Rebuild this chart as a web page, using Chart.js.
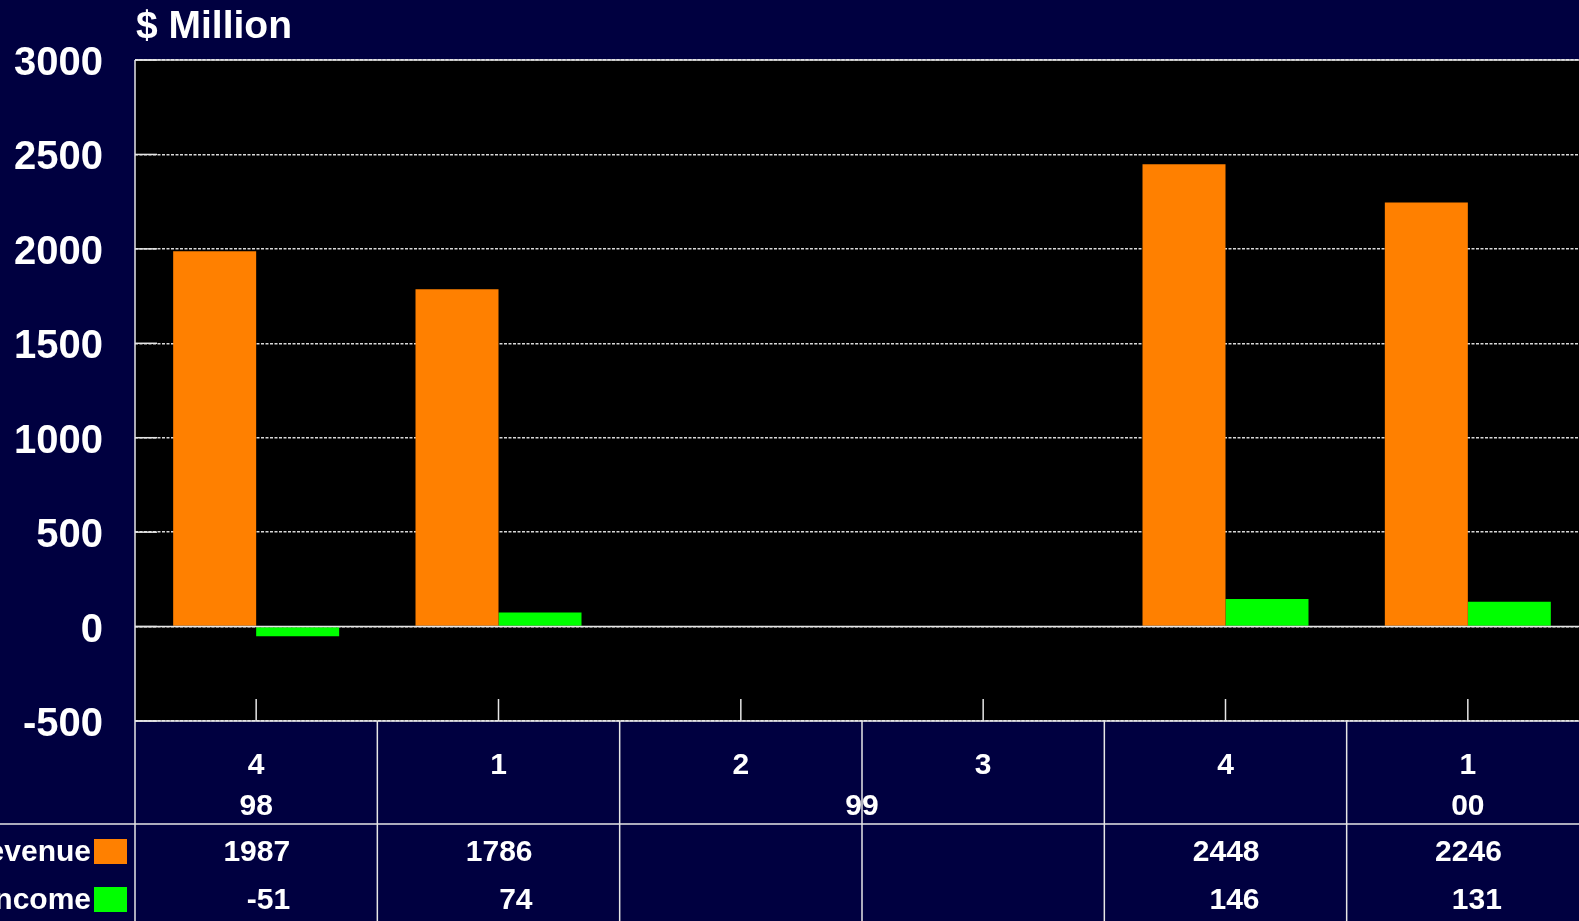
<!DOCTYPE html>
<html>
<head>
<meta charset="utf-8">
<script src="https://cdn.jsdelivr.net/npm/chart.js@4.4.1/dist/chart.umd.min.js"></script>
<style>
  html, body { margin: 0; padding: 0; background: #000040; overflow: hidden; width: 1579px; height: 921px; }
  #wrap { position: absolute; left: 0; top: 0; width: 1590px; height: 921px; }
</style>
</head>
<body>
<div id="wrap"><canvas id="c" width="1590" height="921"></canvas></div>
<script>
// ---- data ----
const quarters = ["4", "1", "2", "3", "4", "1"];
const years = ["98", "99", "99", "99", "99", "00"];
const seriesNames = ["Revenue", "Income"];
const revenue = [1987, 1786, null, null, 2448, 2246];
const income = [-51, 74, null, null, 146, 131];
const yTicks = [-500, 0, 500, 1000, 1500, 2000, 2500, 3000];
const axisTitle = "$ Million";

const FONT = '"Liberation Sans", Arial, Helvetica, sans-serif';
const WHITE = '#ffffff';
const LINE = '#e6e6e6';
const NAVY = '#000040';
const colors = ['#ff8000', '#00ff00'];

Chart.defaults.font.family = FONT;

const tablePlugin = {
  id: 'tablePlugin',
  beforeDraw(chart) {
    const { ctx, chartArea: a } = chart;
    ctx.save();
    ctx.fillStyle = NAVY;
    ctx.fillRect(0, 0, chart.width, chart.height);
    ctx.fillStyle = '#000000';
    ctx.fillRect(a.left, a.top, a.right - a.left, a.bottom - a.top);
    ctx.restore();
  },
  afterDatasetsDraw(chart) {
    const { ctx, chartArea: a, scales: { x, y } } = chart;
    ctx.save();
    ctx.strokeStyle = LINE;
    ctx.lineWidth = 1.5;
    ctx.setLineDash([]);
    [y.getPixelForValue(0), a.top, a.bottom].forEach(py => {
      ctx.beginPath(); ctx.moveTo(a.left, py); ctx.lineTo(a.right, py); ctx.stroke();
    });
    ctx.beginPath(); ctx.moveTo(a.left, a.top); ctx.lineTo(a.left, chart.height); ctx.stroke();
    yTicks.forEach(v => {
      const py = y.getPixelForValue(v);
      ctx.beginPath(); ctx.moveTo(a.left, py); ctx.lineTo(a.left + 22, py); ctx.stroke();
    });
    quarters.forEach((q, i) => {
      const px = x.getPixelForValue(i);
      ctx.beginPath(); ctx.moveTo(px, a.bottom - 22); ctx.lineTo(px, a.bottom); ctx.stroke();
    });
    ctx.restore();
  },
  afterDraw(chart) {
    const { ctx, chartArea: a, scales: { x, y } } = chart;
    const half = (x.getPixelForValue(1) - x.getPixelForValue(0)) / 2;
    ctx.save();
    ctx.fillStyle = WHITE;
    ctx.font = 'bold 39px ' + FONT;
    ctx.textAlign = 'left';
    ctx.textBaseline = 'middle';
    ctx.fillText(axisTitle, a.left + 1, 27);

    const rowLine = 824;
    ctx.strokeStyle = LINE;
    ctx.lineWidth = 1.5;
    ctx.beginPath(); ctx.moveTo(0, rowLine); ctx.lineTo(chart.width, rowLine); ctx.stroke();
    for (let i = 1; i <= quarters.length; i++) {
      const px = x.getPixelForValue(i) - half;
      ctx.beginPath(); ctx.moveTo(px, a.bottom); ctx.lineTo(px, chart.height); ctx.stroke();
    }

    ctx.font = 'bold 30px ' + FONT;
    ctx.textAlign = 'center';
    let start = 0;
    for (let i = 1; i <= years.length; i++) {
      if (i === years.length || years[i] !== years[start]) {
        const x0 = x.getPixelForValue(start) - half;
        const x1 = x.getPixelForValue(i - 1) + half;
        ctx.fillText(years[start], (x0 + x1) / 2, 807);
        start = i;
      }
    }

    const rows = [revenue, income];
    const rowY = [853, 901];
    rows.forEach((vals, r) => {
      ctx.fillStyle = WHITE;
      ctx.textAlign = 'right';
      ctx.fillText(seriesNames[r], 91, rowY[r]);
      ctx.fillStyle = colors[r];
      ctx.fillRect(94, rowY[r] - 14, 33, 25);
      ctx.fillStyle = WHITE;
      vals.forEach((v, i) => {
        if (v === null) return;
        ctx.fillText(String(v), x.getPixelForValue(i) + 34, rowY[r]);
      });
    });
    ctx.restore();
  }
};

new Chart(document.getElementById('c'), {
  type: 'bar',
  data: {
    labels: quarters,
    datasets: [
      { label: seriesNames[0], data: revenue, backgroundColor: colors[0], borderWidth: 0 },
      { label: seriesNames[1], data: income, backgroundColor: colors[1], borderWidth: 0 }
    ]
  },
  options: {
    responsive: false,
    animation: false,
    devicePixelRatio: 1,
    layout: { padding: { top: 60, right: 1, left: 0, bottom: 0 } },
    plugins: { legend: { display: false }, title: { display: false }, tooltip: { enabled: false } },
    datasets: { bar: { categoryPercentage: 0.685, barPercentage: 1.0 } },
    scales: {
      x: {
        grid: { display: false, drawTicks: false },
        border: { display: false },
        ticks: { color: WHITE, font: { size: 30, weight: 'bold' }, padding: 27, maxRotation: 0, autoSkip: false },
        afterFit(scale) { scale.height = 200; }
      },
      y: {
        min: -500,
        max: 3000,
        afterBuildTicks(scale) { scale.ticks = yTicks.map(v => ({ value: v })); },
        grid: { color: '#d8d8d8', lineWidth: 1.5, drawTicks: false },
        border: { display: false, dash: [3, 1.5] },
        ticks: { color: WHITE, font: { size: 40, weight: 'bold' }, padding: 32, labelOffset: 4,
                 callback: (v) => String(v) },
        afterFit(scale) { scale.width = 135; }
      }
    }
  },
  plugins: [tablePlugin]
});
</script>
</body>
</html>
